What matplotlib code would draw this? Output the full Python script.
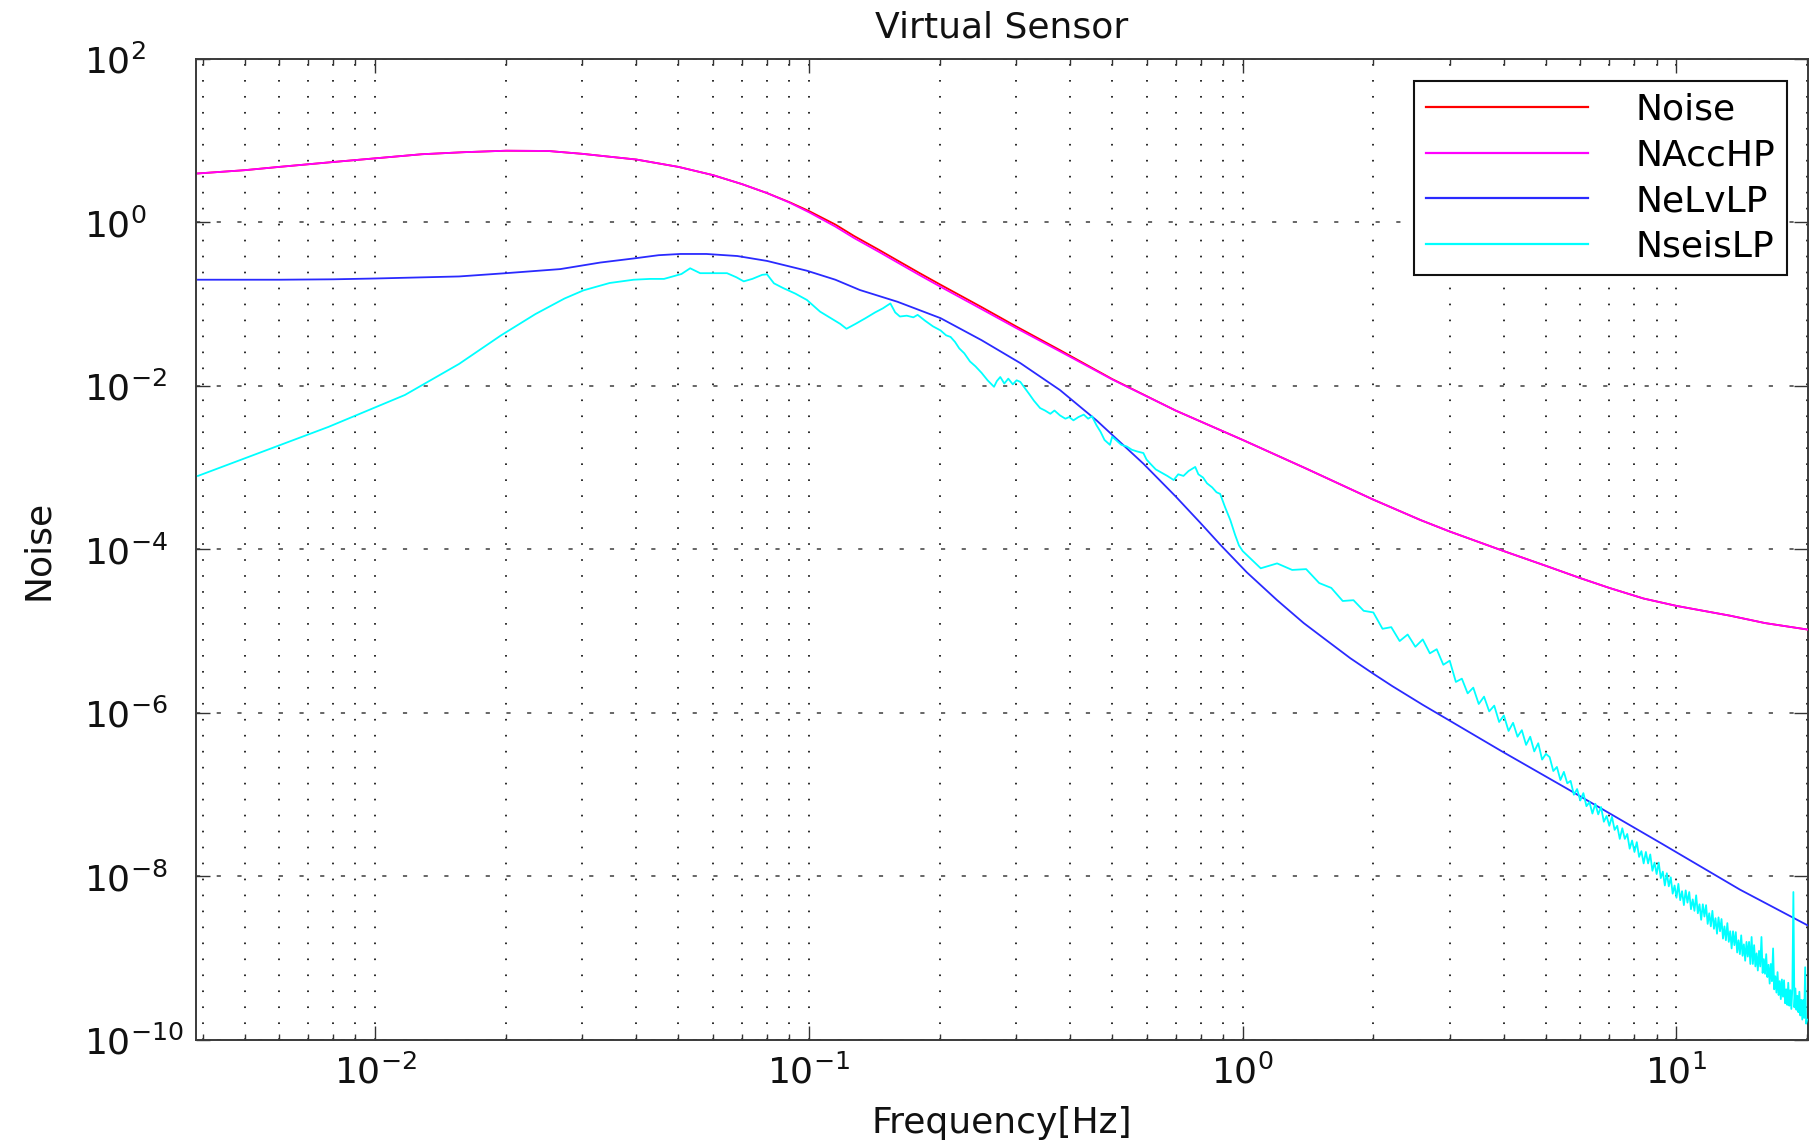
import numpy as np
import matplotlib
matplotlib.use("Agg")
import matplotlib.pyplot as plt
from matplotlib.ticker import FixedLocator, LogLocator, NullLocator, LogFormatterMathtext, NullFormatter

plt.rcParams['font.family'] = ['DejaVu Sans']
plt.rcParams['lines.scale_dashes'] = False

# ---------------- data (log10 of noise amplitude) ----------------
title = "Virtual Sensor"
xlabel = "Frequency[Hz]"
ylabel = "Noise"
series_names = ["Noise", "NAccHP", "NeLvLP", "NseisLP"]

f_acc = [0.0039, 0.005, 0.006, 0.008, 0.01, 0.0128, 0.016, 0.02, 0.025, 0.03,
         0.04, 0.05, 0.06, 0.07, 0.08, 0.09, 0.1, 0.115, 0.127, 0.145,
         0.16, 0.18, 0.2, 0.25, 0.3, 0.38, 0.5, 0.7, 1.0, 1.4,
         2.0, 2.57, 3.0, 4.0, 5.0, 6.0, 7.0, 8.4, 10.0, 13.3, 16.0, 20.1]
nacchp_log = [0.60, 0.64, 0.68, 0.74, 0.785, 0.835, 0.86, 0.878, 0.875, 0.84,
              0.77, 0.68, 0.58, 0.47, 0.36, 0.245, 0.125, -0.05, -0.19, -0.36,
              -0.49, -0.645, -0.78, -1.06, -1.29, -1.58, -1.92, -2.30, -2.66, -3.01,
              -3.39, -3.64, -3.78, -4.02, -4.20, -4.35, -4.47, -4.60, -4.69, -4.81, -4.90, -4.98]
noise_log = [0.60, 0.64, 0.68, 0.74, 0.785, 0.835, 0.86, 0.878, 0.875, 0.84,
             0.77, 0.68, 0.58, 0.47, 0.36, 0.25, 0.14, -0.025, -0.165, -0.335,
             -0.465, -0.62, -0.755, -1.035, -1.27, -1.565, -1.915, -2.30, -2.66, -3.01,
             -3.39, -3.64, -3.78, -4.02, -4.20, -4.35, -4.47, -4.60, -4.69, -4.81, -4.90, -4.98]

f_elv = [0.0039, 0.006, 0.008, 0.01, 0.0156, 0.02, 0.0267, 0.033, 0.0394, 0.045,
         0.0505, 0.058, 0.0683, 0.08, 0.0989, 0.115, 0.131, 0.16, 0.201, 0.25,
         0.307, 0.379, 0.46, 0.59, 0.7, 0.797, 0.887, 1.022, 1.2, 1.382,
         1.55, 1.77, 2.0, 2.21, 2.6, 2.97, 3.96, 5.57, 9.26, 14.0, 20.1]
nelvlp_log = [-0.70, -0.70, -0.695, -0.685, -0.66, -0.62, -0.57, -0.49, -0.44, -0.40,
              -0.385, -0.385, -0.41, -0.47, -0.59, -0.70, -0.826, -0.97, -1.17, -1.44,
              -1.72, -2.05, -2.42, -2.95, -3.35, -3.67, -3.94, -4.28, -4.62, -4.90,
              -5.10, -5.33, -5.52, -5.67, -5.90, -6.08, -6.47, -6.92, -7.60, -8.16, -8.60]

seis_f_low = [0.0039, 0.0078, 0.0117, 0.0156, 0.0195, 0.0234, 0.0273, 0.0302, 0.0347, 0.0394,
              0.0430, 0.0463, 0.0508, 0.0532, 0.0561, 0.0600, 0.0647, 0.0680, 0.0707, 0.0740,
              0.0780, 0.0800, 0.0830, 0.0870, 0.0930, 0.0989]
seis_low = [-3.10, -2.50, -2.11, -1.73, -1.38, -1.12, -0.93, -0.83, -0.74, -0.70,
            -0.69, -0.69, -0.63, -0.56, -0.62, -0.62, -0.62, -0.67, -0.72, -0.69,
            -0.64, -0.634, -0.744, -0.80, -0.87, -0.948]

seis_f_mid = [0.106, 0.113, 0.118, 0.122, 0.128, 0.135, 0.142, 0.148, 0.154, 0.158,
              0.162, 0.168, 0.174, 0.178, 0.185, 0.193, 0.201, 0.207, 0.212, 0.217,
              0.222, 0.228, 0.235, 0.242, 0.250, 0.258, 0.267, 0.271, 0.276, 0.282,
              0.288, 0.295, 0.301, 0.307, 0.314, 0.322, 0.330, 0.341, 0.350, 0.360,
              0.368, 0.379, 0.390, 0.398, 0.407, 0.418, 0.430, 0.440, 0.449, 0.460,
              0.470, 0.480, 0.494, 0.500, 0.510, 0.525, 0.540, 0.555, 0.570, 0.590,
              0.600, 0.612, 0.630, 0.650, 0.670, 0.693, 0.710, 0.730, 0.750, 0.777,
              0.790, 0.810, 0.827, 0.850, 0.870, 0.887, 0.910, 0.936, 0.960, 0.980]
seis_mid = [-1.09, -1.18, -1.24, -1.30, -1.24, -1.17, -1.10, -1.05, -0.99, -1.10,
            -1.15, -1.14, -1.16, -1.13, -1.20, -1.27, -1.32, -1.38, -1.40, -1.46,
            -1.54, -1.60, -1.70, -1.76, -1.84, -1.93, -2.01, -1.94, -1.89, -1.97,
            -1.91, -1.98, -1.93, -1.95, -2.02, -2.10, -2.18, -2.27, -2.30, -2.34,
            -2.30, -2.36, -2.40, -2.38, -2.42, -2.38, -2.35, -2.40, -2.37, -2.48,
            -2.56, -2.66, -2.72, -2.62, -2.66, -2.72, -2.74, -2.78, -2.80, -2.82,
            -2.90, -2.95, -3.02, -3.06, -3.10, -3.15, -3.08, -3.10, -3.04, -2.99,
            -3.08, -3.12, -3.19, -3.24, -3.30, -3.32, -3.48, -3.64, -3.82, -3.95]

seis_f_high = [1.0, 1.1, 1.2, 1.3, 1.4, 1.5, 1.6, 1.7, 1.8, 1.9,
               2.0, 2.1, 2.2, 2.3, 2.4, 2.5, 2.6, 2.7, 2.8, 2.9,
               3.0, 3.1, 3.2, 3.3, 3.4, 3.5, 3.6, 3.7, 3.8, 3.9,
               4.0, 4.1, 4.2, 4.3, 4.4, 4.5, 4.6, 4.7, 4.8, 4.9,
               5.0]
seis_high = [-4.02, -4.23, -4.17, -4.25, -4.24, -4.41, -4.47, -4.63, -4.62, -4.75,
             -4.77, -4.97, -4.95, -5.12, -5.04, -5.19, -5.10, -5.27, -5.22, -5.41,
             -5.36, -5.62, -5.58, -5.76, -5.69, -5.89, -5.80, -5.98, -5.91, -6.11,
             -6.03, -6.22, -6.12, -6.29, -6.21, -6.39, -6.29, -6.47, -6.37, -6.57,
             -6.50]

seis_f_top = [5.1, 5.2, 5.3, 5.4, 5.5, 5.6, 5.7, 5.8, 5.9, 6.0,
              6.1, 6.2, 6.3, 6.4, 6.5, 6.6, 6.7, 6.8, 6.9, 7.0,
              7.1, 7.2, 7.3, 7.4, 7.5, 7.6, 7.7, 7.8, 7.9, 8.0,
              8.1, 8.2, 8.3, 8.4, 8.5, 8.6, 8.7, 8.8, 8.9, 9.0,
              9.1, 9.2, 9.3, 9.4, 9.5, 9.6, 9.7, 9.8, 9.9, 10.0,
              10.1, 10.2, 10.3, 10.4, 10.5, 10.6, 10.7, 10.8, 10.9, 11.0,
              11.1, 11.2, 11.3, 11.4, 11.5, 11.6, 11.7, 11.8, 11.9, 12.0,
              12.1, 12.2, 12.3, 12.4, 12.5, 12.6, 12.7, 12.8, 12.9, 13.0,
              13.1, 13.2, 13.3, 13.4, 13.5, 13.6, 13.7, 13.8, 13.9, 14.0,
              14.1, 14.2, 14.3, 14.4, 14.5, 14.6, 14.7, 14.8, 14.9, 15.0,
              15.1, 15.2, 15.3, 15.4, 15.5, 15.6, 15.7, 15.8, 15.9, 16.0,
              16.1, 16.2, 16.3, 16.4, 16.5, 16.6, 16.7, 16.8, 16.9, 17.0,
              17.1, 17.2, 17.3, 17.4, 17.5, 17.6, 17.7, 17.8, 17.9, 18.0,
              18.1, 18.2, 18.3, 18.4, 18.5, 18.6, 18.7, 18.8, 18.9, 19.0,
              19.1, 19.2, 19.3, 19.4, 19.5, 19.6, 19.7, 19.8, 19.9, 20.0]
seis_top = [-6.54, -6.71, -6.66, -6.82, -6.72, -6.86, -6.83, -7.00, -6.93, -7.07,
            -6.98, -7.14, -7.09, -7.23, -7.11, -7.24, -7.15, -7.33, -7.26, -7.38,
            -7.27, -7.43, -7.38, -7.54, -7.41, -7.54, -7.48, -7.66, -7.56, -7.70,
            -7.58, -7.76, -7.69, -7.84, -7.70, -7.84, -7.73, -7.93, -7.83, -7.97,
            -7.83, -8.02, -7.94, -8.11, -7.96, -8.12, -8.01, -8.21, -8.11, -8.26,
            -8.09, -8.29, -8.18, -8.35, -8.17, -8.32, -8.19, -8.40, -8.28, -8.42,
            -8.23, -8.45, -8.34, -8.53, -8.34, -8.49, -8.35, -8.58, -8.45, -8.61,
            -8.42, -8.64, -8.51, -8.70, -8.50, -8.67, -8.52, -8.76, -8.61, -8.78,
            -8.57, -8.80, -8.67, -8.88, -8.67, -8.84, -8.68, -8.93, -8.78, -8.95,
            -8.72, -8.97, -8.83, -9.03, -8.80, -8.98, -8.80, -9.07, -8.74, -9.07,
            -8.84, -9.10, -8.94, -9.15, -8.91, -9.10, -8.74, -9.18, -9.01, -9.19,
            -8.95, -9.23, -9.08, -9.31, -9.07, -9.28, -8.88, -9.38, -9.22, -9.42,
            -9.17, -9.45, -9.28, -9.50, -9.26, -9.47, -9.27, -9.55, -9.38, -9.57,
            -9.30, -9.58, -9.39, -9.62, -9.36, -8.19, -9.60, -9.37, -9.63, -9.46,
            -9.66, -9.41, -9.70, -9.51, -9.75, -9.51, -9.73, -9.11, -9.80, -9.75]

x_major_ticks = [1e-2, 1e-1, 1e0, 1e1]
y_major_ticks = [1e-10, 1e-8, 1e-6, 1e-4, 1e-2, 1e0, 1e2]
x_limits = (0.00386, 20.1)
y_limits = (1e-10, 1e2)

# ---------------- figure ----------------
FS = 26
fig = plt.figure(figsize=(18.16, 11.46), dpi=100)
ax = fig.add_axes([0.10793, 0.09250, 0.88766, 0.85602])
ax.set_xscale('log')
ax.set_yscale('log')

seis_f = seis_f_low + seis_f_mid + seis_f_high + seis_f_top
seis_log = seis_low + seis_mid + seis_high + seis_top

lw = 1.3
ax.plot(f_acc, 10.0 ** np.array(noise_log), color='#ff0000', lw=lw, label=series_names[0], zorder=3)
ax.plot(f_acc, 10.0 ** np.array(nacchp_log), color='#ff00ff', lw=lw, label=series_names[1], zorder=4)
ax.plot(f_elv, 10.0 ** np.array(nelvlp_log), color='#2a2aff', lw=lw, label=series_names[2], zorder=4)
ax.plot(seis_f, 10.0 ** np.array(seis_log), color='#00ffff', lw=lw, label=series_names[3], zorder=5)

ax.set_xlim(*x_limits)
ax.set_ylim(*y_limits)

ax.xaxis.set_major_locator(FixedLocator(x_major_ticks))
ax.xaxis.set_minor_locator(LogLocator(base=10, subs=(2, 3, 4, 5, 6, 7, 8, 9), numticks=20))
ax.xaxis.set_major_formatter(LogFormatterMathtext())
ax.xaxis.set_minor_formatter(NullFormatter())
ax.yaxis.set_major_locator(FixedLocator(y_major_ticks))
ax.yaxis.set_minor_locator(NullLocator())
ax.yaxis.set_major_formatter(LogFormatterMathtext())

ax.tick_params(which='both', direction='in', top=True, right=True, color='#333333', width=1.0)
ax.tick_params(which='major', length=10)
ax.tick_params(which='minor', length=4.5)
ax.tick_params(axis='both', labelsize=FS, labelcolor='#111111')
ax.tick_params(axis='x', pad=10.5)
ax.tick_params(axis='y', pad=80.6)
for t in ax.get_yticklabels():
    t.set_ha('left')

for sp in ax.spines.values():
    sp.set_color('#3a3a3a')
    sp.set_linewidth(1.4)

# MATLAB-like dotted grids
ax.set_axisbelow(True)
ax.grid(True, which='major', axis='x', color='#1a1a1a', lw=1.3, linestyle=(0, (1.2, 10.3)))
ax.grid(True, which='minor', axis='x', color='#1a1a1a', lw=1.3, linestyle=(0, (1.2, 10.3)))
ax.grid(True, which='major', axis='y', color='#5a5a5a', lw=1.3, linestyle=(0, (3.0, 11.9)))

ax.set_title(title, fontsize=FS, pad=15.8, color='#111111')
ax.set_xlabel(xlabel, fontsize=FS, color='#111111')
ax.xaxis.set_label_coords(0.5, -0.0948)
ax.xaxis.label.set_va('baseline')
ax.set_ylabel(ylabel, fontsize=FS, color='#111111')
ax.yaxis.set_label_coords(-0.0918, 0.5)
ax.yaxis.label.set_va('baseline')

leg = ax.legend(loc='upper right', bbox_to_anchor=(0.98697, 0.97757), borderaxespad=0,
                fontsize=FS, fancybox=False, framealpha=1, edgecolor='#111111',
                handlelength=4.5, handletextpad=1.3, borderpad=0.33, labelspacing=0.32)
leg.get_frame().set_linewidth(1.5)
for line in leg.get_lines():
    line.set_linewidth(1.6)
leg.set_zorder(10)

fig.savefig('out.png', dpi=100)
